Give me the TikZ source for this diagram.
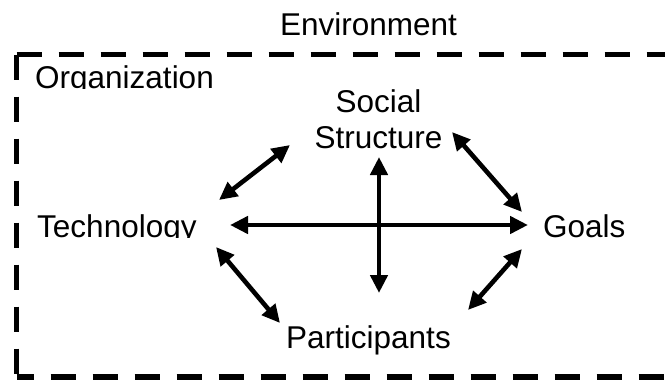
\documentclass[tikz,border=0pt]{standalone}
\usepackage{fontspec}
\setmainfont{Liberation Sans}
\usetikzlibrary{arrows.meta}
\begin{document}
\begin{tikzpicture}[x=1pt,y=1pt,
  lbl/.style={inner sep=0pt, font=\fontsize{31.5}{36}\selectfont},
  link/.style={line width=4.6pt, {Triangle[length=18pt,width=17pt]}-{Triangle[length=18pt,width=17pt]}},
  envbox/.style={line width=5.5pt, dash pattern=on 25pt off 17pt}]
\useasboundingbox (0,0) rectangle (665,-381);
\clip (0,0) rectangle (665,-381);
% environment box (right side runs off the picture)
\coordinate (boxTR) at (700,-54.5);
\coordinate (boxTL) at (16.5,-54.5);
\coordinate (boxBL) at (16.5,-377);
\coordinate (boxBR) at (700,-377);
\draw[envbox] (boxTL) -- (boxTR);
\draw[envbox] (boxTL) -- (boxBL);
\draw[envbox, dash phase=8pt] (boxBL) -- (boxBR);
% texts
\node[lbl, anchor=base] (env) at (368.5,-35) {Environment};
\begin{scope}
  \clip (0,-50) rectangle (240,-88.5);
  \node[lbl, anchor=base west] (org) at (35,-88) {Organization};
\end{scope}
\node[lbl, anchor=base] (soc) at (378.5,-112) {Social};
\node[lbl, anchor=base] (struct) at (378.5,-148) {Structure};
\begin{scope}
  \clip (0,-180) rectangle (240,-237.5);
  \node[lbl, anchor=base west] (tech) at (37,-237) {Technology};
\end{scope}
\node[lbl, anchor=base west] (goals) at (543,-237) {Goals};
\node[lbl, anchor=base west] (part) at (286,-348) {Participants};
% arrow ends
\coordinate (tgL) at (230,-225);
\coordinate (tgR) at (528,-225);
\coordinate (spT) at (379,-157);
\coordinate (spB) at (379,-293);
\coordinate (tsA) at (219,-200);
\coordinate (tsB) at (290,-145);
\coordinate (tpA) at (216,-247);
\coordinate (tpB) at (280,-323);
\coordinate (sgA) at (452,-132);
\coordinate (sgB) at (522,-212);
\coordinate (gpA) at (522,-249);
\coordinate (gpB) at (468,-310);
\draw[link] (tgL) -- (tgR);
\draw[link] (spT) -- (spB);
\draw[link] (tsA) -- (tsB);
\draw[link] (tpA) -- (tpB);
\draw[link] (sgA) -- (sgB);
\draw[link] (gpA) -- (gpB);
\end{tikzpicture}
\end{document}
